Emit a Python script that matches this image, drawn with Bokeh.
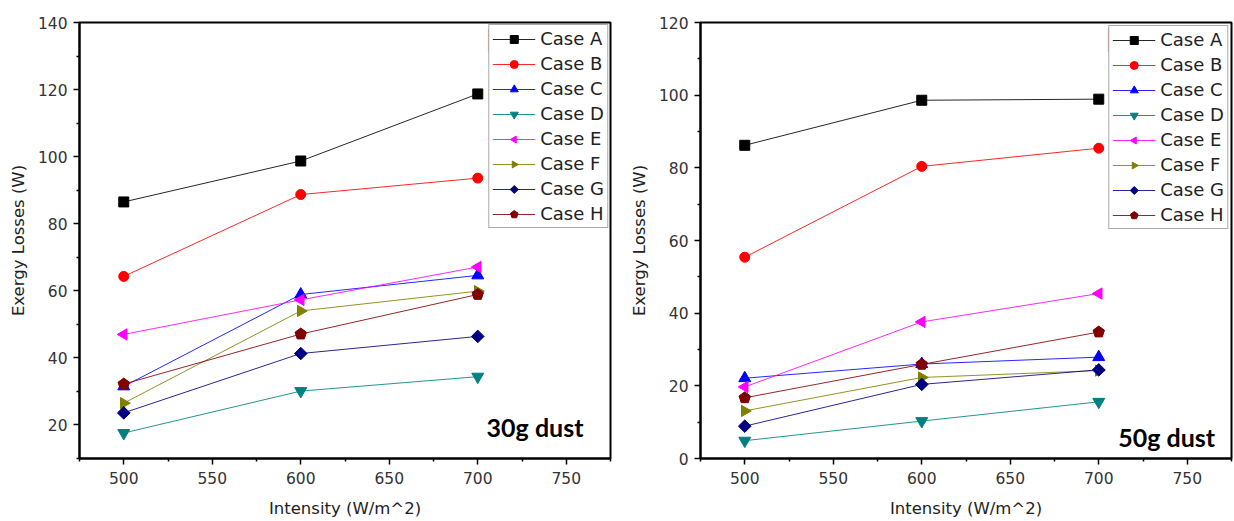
import math
from bokeh.plotting import figure
from bokeh.models import Range1d, FixedTicker, Legend, LegendItem, Label
from bokeh.layouts import row
from bokeh.embed import file_html
from bokeh.resources import INLINE

# ---------------- data ----------------
intensity = [500, 600, 700]
case_names = ["Case A", "Case B", "Case C", "Case D", "Case E", "Case F", "Case G", "Case H"]

# 30 g dust
a30 = [86.5, 98.7, 118.7]
b30 = [64.3, 88.7, 93.6]
c30 = [31.5, 58.9, 64.6]
d30 = [17.6, 30.1, 34.4]
e30 = [47.0, 57.3, 67.1]
f30 = [26.5, 54.0, 59.9]
g30 = [23.6, 41.3, 46.4]
h30 = [32.2, 47.1, 58.9]

# 50 g dust
a50 = [86.2, 98.6, 98.9]
b50 = [55.4, 80.4, 85.4]
c50 = [22.1, 26.0, 27.9]
d50 = [4.9, 10.3, 15.6]
e50 = [19.7, 37.6, 45.4]
f50 = [13.1, 22.3, 24.2]
g50 = [8.9, 20.4, 24.4]
h50 = [16.7, 25.9, 34.8]

x_ticks = [500, 550, 600, 650, 700, 750]
x_minor = [475, 525, 575, 625, 675, 725, 775]
y_ticks_30 = [20, 40, 60, 80, 100, 120, 140]
y_minor_30 = [10, 30, 50, 70, 90, 110, 130]
y_ticks_50 = [0, 20, 40, 60, 80, 100, 120]
y_minor_50 = [10, 30, 50, 70, 90, 110]

# ---------------- style ----------------
colors = ["#000000", "#FF0000", "#0000FF", "#008080", "#FF00FF", "#808000", "#000080", "#800000"]
# (kind, marker/n, size or radius, angle)
markers = [("scatter", "square", 10, 0.0),
           ("scatter", "circle", 10, 0.0),
           ("scatter", "triangle", 12, 0.0),
           ("scatter", "inverted_triangle", 12, 0.0),
           ("ngon", 3, 6.5, math.pi / 2),
           ("ngon", 3, 6.5, -math.pi / 2),
           ("ngon", 4, 6.3, 0.0),
           ("ngon", 5, 6.0, 0.0)]
FONT = "DejaVu Sans"


def make_fig(series, y_start, y_end, yt, ym, bl, br, bt, bb, width, height,
             txt, tx, ty, lmargin, sel_box):
    p = figure(width=width, height=height, output_backend="svg", toolbar_location=None,
               x_range=Range1d(475, 775), y_range=Range1d(y_start, y_end),
               min_border_left=bl, min_border_right=br, min_border_top=bt, min_border_bottom=bb,
               background_fill_color="white", border_fill_color="white")
    p.grid.visible = False
    p.outline_line_color = "#000000"
    p.outline_line_width = 2
    p.outline_line_alpha = 1

    for ax in (p.xaxis[0], p.yaxis[0]):
        ax.axis_line_width = 2
        ax.axis_line_color = "#000000"
        ax.major_tick_line_width = 1.5
        ax.minor_tick_line_width = 1.5
        ax.major_tick_out = 6
        ax.major_tick_in = 0
        ax.minor_tick_out = 3
        ax.minor_tick_in = 0
        ax.major_label_text_font = FONT
        ax.major_label_text_font_size = "15.5px"
        ax.major_label_text_color = "#333333"
        ax.axis_label_text_font = FONT
        ax.axis_label_text_font_size = "16.5px"
        ax.axis_label_text_font_style = "normal"
        ax.axis_label_text_color = "#222222"

    p.xaxis.ticker = FixedTicker(ticks=x_ticks, minor_ticks=x_minor)
    p.yaxis.ticker = FixedTicker(ticks=yt, minor_ticks=ym)
    p.xaxis.axis_label = "Intensity (W/m^2)"
    p.yaxis.axis_label = "Exergy Losses (W)"
    p.xaxis.major_label_standoff = 7
    p.yaxis.major_label_standoff = 6
    p.xaxis.axis_label_standoff = 12
    p.yaxis.axis_label_standoff = 7

    items = []
    for name, vals, col, (kind, mk, sz, ang) in zip(case_names, series, colors, markers):
        lr = p.line(intensity, vals, line_color=col, line_width=1, line_alpha=0.85)
        if kind == "ngon":
            mr = p.ngon(x=intensity, y=vals, radius=sz, radius_units="screen", n=mk,
                        angle=ang, fill_color=col, line_color=col)
        else:
            mr = p.scatter(intensity, vals, marker=mk, size=sz,
                           fill_color=col, line_color=col)
        items.append(LegendItem(label=name, renderers=[lr, mr]))

    legend = Legend(items=items, location="top_right", margin=lmargin,
                    label_text_font=FONT, label_text_font_size="18px",
                    label_text_color="#222222",
                    glyph_width=43, glyph_height=20, label_height=20,
                    spacing=4, padding=3, label_standoff=5,
                    border_line_color="#555555", border_line_width=1.5,
                    background_fill_color="white", background_fill_alpha=1)
    p.add_layout(legend)

    # red selection frame around the first legend glyph (as in the source image)
    l, r, t, b = sel_box
    p.quad(left=[l], right=[r], top=[t], bottom=[b], fill_alpha=0,
           line_color="#E05050", line_width=1.2, line_alpha=0.9, level="overlay")

    p.add_layout(Label(x=tx, y=ty, text=txt, text_font="Lato", text_font_style="bold",
                       text_font_size="25px", text_color="#000000",
                       text_baseline="alphabetic"))
    return p


s30 = [a30, b30, c30, d30, e30, f30, g30, h30]
s50 = [a50, b50, c50, d50, e50, f50, g50, h50]

p1 = make_fig(s30, 10, 140, y_ticks_30, y_minor_30, 79, 10, 22, 62, 620, 520,
              "30g dust", 705, 19.3, 2, (706.1, 731.5, 137.9, 131.2))
p2 = make_fig(s50, 0, 120, y_ticks_50, y_minor_50, 80, 3, 22, 62, 614, 520,
              "50g dust", 711, 5.8, 3, (705.5, 730.9, 118.3, 111.9))

layout = row(p1, p2, spacing=0)
open("out.html", "w").write(file_html(layout, INLINE))
